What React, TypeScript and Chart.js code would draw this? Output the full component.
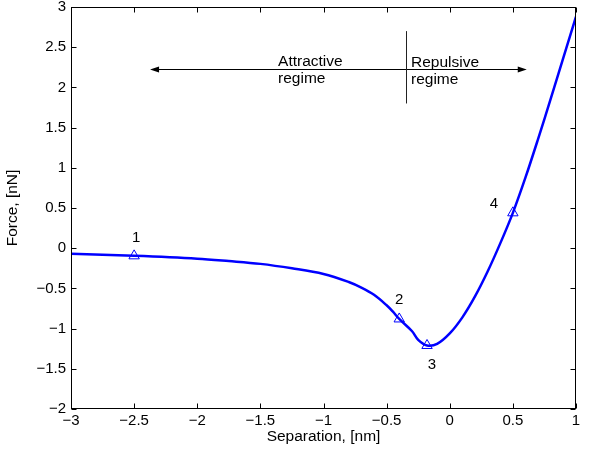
import React, { useEffect, useRef } from "react";
import { Chart, registerables } from "chart.js";

Chart.register(...registerables);

// ---- data ----
const separation = [-3, -2.5, -2, -1.75, -1.5, -1.25, -1, -0.8, -0.7, -0.6, -0.5, -0.45, -0.4, -0.3, -0.25, -0.18, -0.1, 0, 0.1, 0.2, 0.3, 0.4, 0.5, 0.6, 0.7, 0.8, 0.9, 1.0];
const force = [-0.07, -0.095, -0.13, -0.16, -0.195, -0.25, -0.32, -0.42, -0.49, -0.58, -0.71, -0.79, -0.88, -1.03, -1.14, -1.21, -1.19, -1.06, -0.86, -0.6, -0.29, 0.06, 0.44, 0.88, 1.36, 1.86, 2.37, 2.88];

const markerX = [-2.5, -0.4, -0.18, 0.5];
const markerY = [-0.095, -0.88, -1.21, 0.44];
const markerLabels = ["1", "2", "3", "4"];
const markerLabelOffsetX = [2, 0, 5, -19];
const markerLabelOffsetY = [-18, -19, 19, -9];

const xTicks = [-3, -2.5, -2, -1.5, -1, -0.5, 0, 0.5, 1];
const yTicks = [-2, -1.5, -1, -0.5, 0, 0.5, 1, 1.5, 2, 2.5, 3];

// annotation (data coordinates)
const arrowY = 2.234;
const arrowLeftX = -2.374;
const arrowRightX = 0.61;
const dividerX = -0.347;
const dividerTop = 2.7;
const dividerBottom = 1.8;
const attractiveText = ["Attractive", "regime"];
const attractiveX = -1.36;
const repulsiveText = ["Repulsive", "regime"];
const repulsiveX = -0.307;

const FONT = "'Liberation Sans', Arial, Helvetica, sans-serif";

const fmt = (v: number) => {
  const n = Number(Number(v).toFixed(2));
  const s = String(Math.abs(n));
  return n < 0 ? "\u2212" + s : s;
};

const boxPlugin = {
  id: "matlabBox",
  afterDraw(chart: any) {
    const ctx = chart.ctx;
    const { left, right, top, bottom } = chart.chartArea;
    const xs = chart.scales.x;
    const ys = chart.scales.y;
    ctx.save();
    ctx.strokeStyle = "#000";
    ctx.lineWidth = 1;
    const L = Math.round(left) + 0.5;
    const R = Math.round(right) - 0.5;
    const T = Math.round(top) + 0.5;
    const B = Math.round(bottom) - 0.5;
    ctx.strokeRect(L, T, R - L, B - T);
    const tl = 5;
    ctx.beginPath();
    xTicks.forEach((v) => {
      const px = Math.round(xs.getPixelForValue(v)) + 0.5;
      ctx.moveTo(px, B);
      ctx.lineTo(px, B - tl);
      ctx.moveTo(px, T);
      ctx.lineTo(px, T + tl);
    });
    yTicks.forEach((v) => {
      const py = Math.round(ys.getPixelForValue(v)) + 0.5;
      ctx.moveTo(L, py);
      ctx.lineTo(L + tl, py);
      ctx.moveTo(R, py);
      ctx.lineTo(R - tl, py);
    });
    ctx.stroke();

    // annotations
    const ay = Math.round(ys.getPixelForValue(arrowY)) + 0.5;
    const ax1 = xs.getPixelForValue(arrowLeftX);
    const ax2 = xs.getPixelForValue(arrowRightX);
    ctx.beginPath();
    ctx.moveTo(ax1 + 4, ay);
    ctx.lineTo(ax2 - 4, ay);
    ctx.stroke();
    ctx.fillStyle = "#000";
    ctx.beginPath();
    ctx.moveTo(ax1, ay);
    ctx.lineTo(ax1 + 9, ay - 3);
    ctx.lineTo(ax1 + 9, ay + 3);
    ctx.closePath();
    ctx.fill();
    ctx.beginPath();
    ctx.moveTo(ax2, ay);
    ctx.lineTo(ax2 - 9, ay - 3);
    ctx.lineTo(ax2 - 9, ay + 3);
    ctx.closePath();
    ctx.fill();

    const dx = Math.round(xs.getPixelForValue(dividerX)) + 0.5;
    ctx.strokeStyle = "#222";
    ctx.beginPath();
    ctx.moveTo(dx, ys.getPixelForValue(dividerTop));
    ctx.lineTo(dx, ys.getPixelForValue(dividerBottom));
    ctx.stroke();

    ctx.fillStyle = "#000";
    ctx.font = `15.5px ${FONT}`;
    ctx.textAlign = "left";
    ctx.textBaseline = "alphabetic";
    const drawLines = (lines: string[], xv: number, yShift: number) => {
      const px = xs.getPixelForValue(xv);
      ctx.fillText(lines[0], px, ay - 4 + yShift);
      ctx.fillText(lines[1], px, ay + 13 + yShift);
    };
    drawLines(attractiveText, attractiveX, 0);
    drawLines(repulsiveText, repulsiveX, 1);

    // marker labels
    ctx.font = `15px ${FONT}`;
    ctx.textAlign = "center";
    ctx.textBaseline = "middle";
    markerX.forEach((v, i) => {
      const px = xs.getPixelForValue(v) + markerLabelOffsetX[i];
      const py = ys.getPixelForValue(markerY[i]) + markerLabelOffsetY[i];
      ctx.fillText(markerLabels[i], px, py);
    });
    ctx.restore();
  },
};

export default function App() {
  const ref = useRef<HTMLCanvasElement | null>(null);
  useEffect(() => {
    document.body.style.margin = "0";
    const canvas = ref.current!;
    const chart = new Chart(canvas, {
      type: "scatter",
      data: {
        datasets: [
          {
            data: separation.map((x, i) => ({ x, y: force[i] })),
            showLine: true,
            borderColor: "#0000ff",
            borderWidth: 2.5,
            pointRadius: 0,
            tension: 0.35,
            fill: false,
          } as any,
          {
            data: markerX.map((x, i) => ({ x, y: markerY[i] })),
            showLine: false,
            pointStyle: "triangle",
            pointRadius: 6,
            pointBorderWidth: 1,
            pointBorderColor: "#0000ff",
            pointBackgroundColor: "rgba(0,0,0,0)",
          } as any,
        ],
      },
      options: {
        responsive: false,
        animation: false,
        devicePixelRatio: 1,
        layout: { padding: { top: 7, right: 16, bottom: 0, left: 0 } },
        plugins: { legend: { display: false }, tooltip: { enabled: false } },
        scales: {
          x: {
            type: "linear",
            min: -3,
            max: 1,
            afterBuildTicks: (s: any) => {
              s.ticks = xTicks.map((v) => ({ value: v }));
            },
            afterFit: (s: any) => {
              s.height = 42;
              s.paddingLeft = 0;
              s.paddingRight = 0;
            },
            grid: { display: false, drawTicks: false },
            border: { display: false },
            ticks: {
              padding: 3,
              color: "#000",
              font: { family: FONT, size: 15 },
              callback: (v: any) => fmt(v),
              maxRotation: 0,
              autoSkip: false,
            },
            title: {
              display: true,
              text: "Separation, [nm]",
              color: "#000",
              font: { family: FONT, size: 15.5 },
              padding: { top: 0, bottom: 5 },
            },
          },
          y: {
            type: "linear",
            min: -2,
            max: 3,
            afterBuildTicks: (s: any) => {
              s.ticks = yTicks.map((v) => ({ value: v }));
            },
            afterFit: (s: any) => {
              s.width = 71;
              s.paddingTop = 0;
              s.paddingBottom = 0;
            },
            grid: { display: false, drawTicks: false },
            border: { display: false },
            ticks: {
              padding: 5,
              color: "#000",
              font: { family: FONT, size: 15 },
              callback: (v: any) => fmt(v),
              autoSkip: false,
            },
            title: {
              display: true,
              text: "Force, [nN]",
              color: "#000",
              font: { family: FONT, size: 15.5 },
              padding: { top: 3, bottom: 0 },
            },
          },
        },
      } as any,
      plugins: [boxPlugin],
    });
    return () => chart.destroy();
  }, []);
  return (
    <div style={{ width: 592, height: 451, background: "#fff" }}>
      <canvas ref={ref} width={592} height={451} style={{ display: "block" }} />
    </div>
  );
}
